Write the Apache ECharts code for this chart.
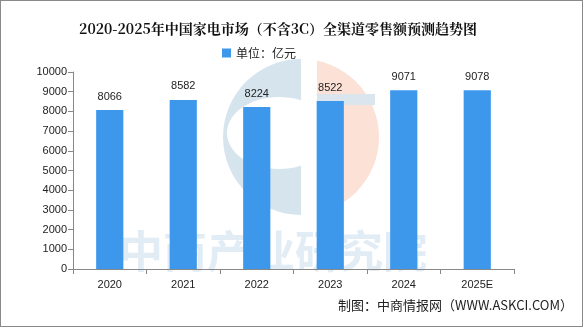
<!DOCTYPE html>
<html><head><meta charset="utf-8">
<script src="https://cdn.jsdelivr.net/npm/echarts@6/dist/echarts.min.js"></script>
<style>html,body{margin:0;padding:0;background:#fff}#c{width:583px;height:327px;box-sizing:border-box;border:1px solid #8a8a8a}</style>
</head><body><div id="c"></div>
<script>
const categories = ['2020','2021','2022','2023','2024','2025E'];
const values = [8066, 8582, 8224, 8522, 9071, 9078];
const seriesName = '单位：亿元';
const titleText = '2020-2025年中国家电市场（不含3C）全渠道零售额预测趋势图';
const footerText = '制图：中商情报网（WWW.ASKCI.COM）';
const watermarkText = '中商产业研究院';

const chart = echarts.init(document.getElementById('c'));
const PI = Math.PI;
chart.setOption({
  animation: false,
  title: { text: titleText, left: 272, top: 16, textAlign: 'center',
    textStyle: { fontFamily: 'Noto Serif CJK SC, Noto Sans CJK SC, serif', fontSize: 14, fontWeight: 'bold', color: '#111' } },
  legend: { data: [{ name: seriesName, icon: 'rect' }], left: 216, top: 41, itemWidth: 9, itemHeight: 9, itemGap: 3,
    textStyle: { fontFamily: 'Noto Sans CJK SC', fontSize: 12, color: '#222' } },
  graphic: [
    { type: 'sector', z: 0, shape: { cx: 300, cy: 136, r: 78, r0: 0, startAngle: PI / 2, endAngle: 3 * PI / 2 }, style: { fill: '#d6e4ee' } },
    { type: 'ellipse', z: 0, shape: { cx: 278, cy: 132, rx: 52, ry: 36 }, style: { fill: '#fff' } },
    { type: 'sector', z: 0, shape: { cx: 300, cy: 136, r: 78, r0: 0, startAngle: -PI / 2, endAngle: PI / 2 }, style: { fill: '#fbe1d6' } },
    { type: 'rect', z: 0, shape: { x: 300, y: 55, width: 16, height: 165 }, style: { fill: '#fff' } },
    { type: 'rect', z: 0, shape: { x: 316, y: 93, width: 58, height: 11 }, style: { fill: '#dbe5ee' } },
    { type: 'text', left: 118, top: 228, z: 0, style: { text: watermarkText, fontSize: 44, fontWeight: 'bold', fontFamily: 'Noto Sans CJK SC', fill: 'rgba(120,170,210,0.22)', letterSpacing: 12 } },
    { type: 'text', right: 9, top: 298, style: { text: footerText, fontSize: 13, fontFamily: 'Noto Sans CJK SC', fill: '#222' } }
  ],
  grid: { left: 72, right: 68, top: 71, bottom: 57 },
  xAxis: { type: 'category', data: categories, z: 5,
    axisLine: { lineStyle: { color: '#888' } },
    axisTick: { show: true, alignWithLabel: false, lineStyle: { color: '#888' } },
    axisLabel: { color: '#222', fontSize: 11, fontFamily: 'Liberation Sans', margin: 10 } },
  yAxis: { type: 'value', min: 0, max: 10000, interval: 1000, z: 5,
    axisLine: { show: true, lineStyle: { color: '#888' } },
    axisTick: { show: true, lineStyle: { color: '#888' } },
    splitLine: { show: false },
    axisLabel: { color: '#222', fontSize: 11, fontFamily: 'Liberation Sans', margin: 6, formatter: v => String(v) } },
  series: [{ name: seriesName, type: 'bar', data: values, barWidth: '37%', z: 2,
    itemStyle: { color: '#3d98ec' },
    label: { show: true, position: 'top', color: '#222', fontSize: 11, fontFamily: 'Liberation Sans', distance: 8 } }]
});
</script></body></html>
